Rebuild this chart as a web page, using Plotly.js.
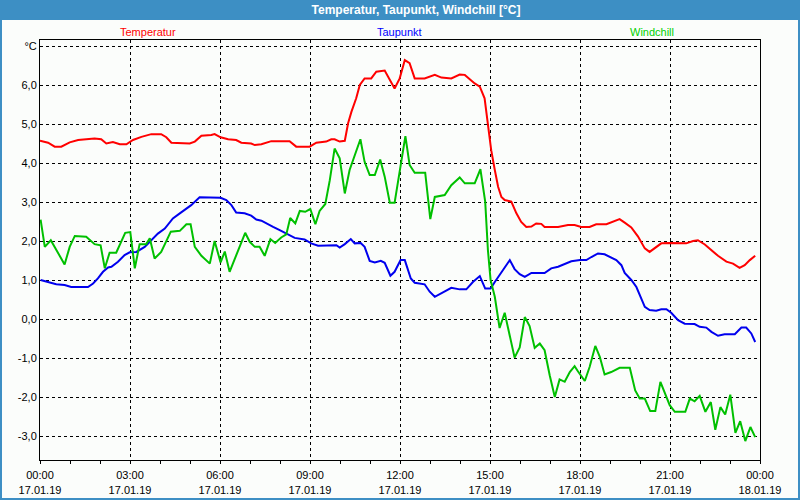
<!DOCTYPE html>
<html>
<head>
<meta charset="utf-8">
<script src="https://cdn.plot.ly/plotly-3.0.1.min.js"></script>
<style>
html,body{margin:0;padding:0;background:#fbfdfb;}
#chart{width:800px;height:500px;}
</style>
</head>
<body>
<div id="chart"></div>
<script>
// Hours since 17.01.19 00:00
const tempTime = [0,0.27,0.49,0.71,0.99,1.27,1.54,1.82,2.04,2.21,2.43,2.66,2.88,3.1,3.38,3.71,4.04,4.21,4.38,4.71,4.99,5.16,5.38,5.71,5.82,6.02,6.27,6.54,6.71,7.04,7.16,7.38,7.71,8.32,8.54,8.99,9.21,9.54,9.71,9.82,9.99,10.16,10.27,10.38,10.54,10.66,10.82,11.04,11.21,11.49,11.66,11.82,11.99,12.16,12.32,12.49,12.82,13.16,13.38,13.71,13.99,14.16,14.49,14.66,14.82,14.93,15.04,15.16,15.27,15.38,15.49,15.71,15.88,16.04,16.21,16.38,16.54,16.71,16.82,17.27,17.6,17.82,18.04,18.32,18.54,18.88,19.1,19.32,19.49,19.71,19.93,20.16,20.32,20.49,20.71,20.99,21.27,21.54,21.77,21.93,22.16,22.38,22.6,22.88,23.1,23.32,23.49,23.66,23.84];
const tempVal = [4.57,4.52,4.42,4.42,4.53,4.59,4.61,4.63,4.61,4.50,4.54,4.48,4.48,4.59,4.67,4.74,4.74,4.66,4.52,4.50,4.50,4.55,4.70,4.72,4.74,4.66,4.61,4.59,4.52,4.50,4.46,4.48,4.56,4.56,4.42,4.42,4.52,4.55,4.61,4.61,4.55,4.57,5.02,5.31,5.66,6.00,6.17,6.17,6.34,6.37,6.13,5.91,6.17,6.64,6.56,6.17,6.17,6.26,6.19,6.17,6.27,6.26,6.04,5.96,5.66,4.93,4.33,3.82,3.39,3.13,3.05,3.01,2.71,2.49,2.36,2.37,2.45,2.44,2.36,2.36,2.41,2.41,2.36,2.36,2.43,2.43,2.49,2.56,2.47,2.35,2.12,1.81,1.72,1.81,1.94,1.95,1.95,1.94,2.00,2.02,1.91,1.77,1.62,1.47,1.42,1.31,1.38,1.51,1.62];

const dewTime = [0.02,0.27,0.54,0.82,1.04,1.6,1.77,1.93,2.1,2.27,2.38,2.6,2.82,2.99,3.21,3.49,3.71,3.93,4.16,4.43,4.66,5.04,5.32,5.49,6.02,6.21,6.38,6.54,6.82,7.04,7.21,7.38,7.54,7.77,7.99,8.21,8.49,8.82,9.04,9.27,9.66,9.88,9.99,10.16,10.36,10.49,10.69,10.82,10.99,11.16,11.36,11.49,11.68,11.82,12.02,12.16,12.36,12.49,12.82,12.99,13.16,13.38,13.71,13.99,14.21,14.43,14.66,14.84,15.02,15.16,15.32,15.49,15.66,15.82,15.99,16.16,16.38,16.82,17.04,17.27,17.49,17.71,18.0,18.21,18.38,18.6,18.82,18.99,19.21,19.38,19.49,19.71,19.88,20.04,20.16,20.32,20.54,20.71,20.88,21.04,21.27,21.49,21.82,21.99,22.21,22.38,22.6,22.82,23.16,23.38,23.54,23.71,23.84];
const dewVal = [1.00,0.95,0.89,0.87,0.82,0.82,0.91,1.04,1.21,1.32,1.34,1.47,1.64,1.71,1.72,1.85,2.02,2.19,2.32,2.58,2.71,2.92,3.12,3.12,3.11,3.05,2.92,2.73,2.71,2.65,2.55,2.52,2.45,2.36,2.28,2.19,2.08,2.04,1.94,1.88,1.88,1.89,1.83,1.92,2.05,1.94,1.95,1.85,1.49,1.45,1.49,1.44,1.11,1.21,1.51,1.51,1.04,0.93,0.89,0.70,0.57,0.67,0.80,0.76,0.76,0.95,1.10,0.78,0.78,0.95,1.14,1.34,1.51,1.28,1.15,1.08,1.18,1.18,1.30,1.34,1.41,1.48,1.51,1.51,1.59,1.68,1.66,1.59,1.51,1.38,1.18,1.00,0.82,0.53,0.31,0.23,0.21,0.25,0.25,0.16,-0.03,-0.12,-0.13,-0.20,-0.22,-0.33,-0.43,-0.39,-0.39,-0.22,-0.22,-0.37,-0.59];

const windTime = [0.02,0.16,0.36,0.6,0.82,0.99,1.16,1.54,1.82,2.02,2.16,2.32,2.54,2.84,3.01,3.16,3.32,3.54,3.66,3.82,4.04,4.36,4.66,4.88,5.02,5.16,5.38,5.66,5.82,6.02,6.16,6.32,6.54,6.84,6.99,7.16,7.32,7.49,7.68,7.84,8.04,8.21,8.34,8.51,8.66,8.84,9.01,9.18,9.32,9.51,9.66,9.82,9.99,10.16,10.32,10.68,10.82,10.99,11.16,11.34,11.49,11.66,11.82,12.18,12.32,12.49,12.84,13.01,13.16,13.49,13.71,13.99,14.16,14.49,14.68,14.84,14.93,15.02,15.16,15.32,15.49,15.66,15.82,15.99,16.16,16.32,16.49,16.66,16.82,16.99,17.16,17.32,17.49,17.66,17.82,17.93,18.16,18.32,18.51,18.66,18.82,19.04,19.32,19.66,19.84,19.99,20.16,20.34,20.51,20.68,20.84,20.99,21.16,21.51,21.66,21.82,21.99,22.18,22.36,22.51,22.68,22.84,23.01,23.18,23.34,23.51,23.68,23.84];
const windVal = [2.55,1.85,2.02,1.68,1.40,1.85,2.13,2.11,1.92,1.89,1.30,1.70,1.70,2.21,2.23,1.30,1.92,1.92,2.07,1.55,1.72,2.24,2.26,2.43,2.43,1.85,1.62,1.42,2.00,1.45,1.73,1.21,1.64,2.21,1.98,1.85,1.85,1.62,2.05,1.95,2.09,2.17,2.59,2.45,2.77,2.75,2.82,2.43,2.77,2.95,3.56,4.37,4.12,3.22,3.82,4.61,4.03,3.69,3.69,4.09,3.65,2.98,2.98,4.69,3.95,3.75,3.75,2.56,3.13,3.18,3.43,3.63,3.48,3.48,3.84,3.01,1.77,1.00,0.57,-0.23,0.16,-0.46,-0.99,-0.73,0.05,-0.18,-0.74,-0.63,-0.80,-1.44,-2.00,-1.55,-1.61,-1.36,-1.21,-1.34,-1.59,-1.23,-0.69,-0.97,-1.42,-1.36,-1.25,-1.25,-1.83,-2.04,-2.04,-2.36,-2.36,-1.61,-1.91,-2.21,-2.38,-2.38,-2.04,-2.11,-1.97,-2.38,-2.13,-2.84,-2.26,-2.45,-1.94,-2.92,-2.62,-3.13,-2.77,-3.03];

const xTickVals = [0,3,6,9,12,15,18,21,24];
const xTickText = ["00:00<br>17.01.19","03:00<br>17.01.19","06:00<br>17.01.19","09:00<br>17.01.19","12:00<br>17.01.19","15:00<br>17.01.19","18:00<br>17.01.19","21:00<br>17.01.19","00:00<br>18.01.19"];
const yTickVals = [-3,-2,-1,0,1,2,3,4,5,6,7];
const yTickText = ["-3,0","-2,0","-1,0","0,0","1,0","2,0","3,0","4,0","5,0","6,0","°C"];
const seriesNames = ["Temperatur","Taupunkt","Windchill"];

const W=800,H=500,L=40,R=40,T=40,B=40;
const pw=W-L-R, ph=H-T-B;
const px = x => (x-L)/pw;
const py = y => (H-B-y)/ph;

const fnt = "Liberation Sans, Arial, sans-serif";
const traces = [
  {x:tempTime,y:tempVal,name:seriesNames[0],mode:"lines",line:{color:"#ff0000",width:2}},
  {x:dewTime,y:dewVal,name:seriesNames[1],mode:"lines",line:{color:"#0000ee",width:2}},
  {x:windTime,y:windVal,name:seriesNames[2],mode:"lines",line:{color:"#00c000",width:2}}
];

const layout = {
  width:W,height:H,
  margin:{l:L,r:R,t:T,b:B,pad:0},
  paper_bgcolor:"#fbfdfb",plot_bgcolor:"#fbfdfb",
  showlegend:false,
  font:{family:fnt,size:11,color:"#000"},
  title:{text:"<b>Temperatur, Taupunkt, Windchill [°C]</b>",font:{family:fnt,size:12,color:"#ffffff"},
         x:416/W,xref:"container",xanchor:"center",y:1-10/H,yref:"container",yanchor:"middle"},
  xaxis:{range:[0,24],tickvals:xTickVals,ticktext:xTickText,showgrid:true,gridcolor:"#000",griddash:"3px,3px",gridwidth:1,
         showline:true,linecolor:"#000",linewidth:1,mirror:true,ticks:"outside",ticklen:3,tickcolor:"#000",zeroline:false,
         ticklabelstandoff:2,
         minor:{dtick:1,ticks:"outside",ticklen:3,tickcolor:"#000",showgrid:false},
         tickfont:{family:fnt,size:11,color:"#000"}},
  yaxis:{range:[-3.615,7.154],tickvals:yTickVals,ticktext:yTickText,showgrid:true,gridcolor:"#000",griddash:"3px,3px",gridwidth:1,
         showline:true,linecolor:"#000",linewidth:1,mirror:true,ticks:"",zeroline:false,
         tickfont:{family:fnt,size:11,color:"#000"}},
  shapes:[
    {type:"rect",xref:"paper",yref:"paper",x0:px(0),x1:px(800),y0:py(20),y1:py(0),fillcolor:"#3d8fc4",line:{width:0},layer:"below"},
    {type:"rect",xref:"paper",yref:"paper",x0:px(1),x1:px(799),y0:py(499),y1:py(1),line:{color:"#3d8fc4",width:2},layer:"below"}
  ],
  annotations:[
    {text:seriesNames[0],xref:"paper",yref:"paper",x:px(148),y:py(32),showarrow:false,xanchor:"center",yanchor:"middle",font:{family:fnt,size:11,color:"#ff0000"}},
    {text:seriesNames[1],xref:"paper",yref:"paper",x:px(399),y:py(32),showarrow:false,xanchor:"center",yanchor:"middle",font:{family:fnt,size:11,color:"#0000ff"}},
    {text:seriesNames[2],xref:"paper",yref:"paper",x:px(652),y:py(32),showarrow:false,xanchor:"center",yanchor:"middle",font:{family:fnt,size:11,color:"#00d000"}}
  ]
};
Plotly.newPlot("chart",traces,layout,{displayModeBar:false,staticPlot:true});
</script>
</body>
</html>
